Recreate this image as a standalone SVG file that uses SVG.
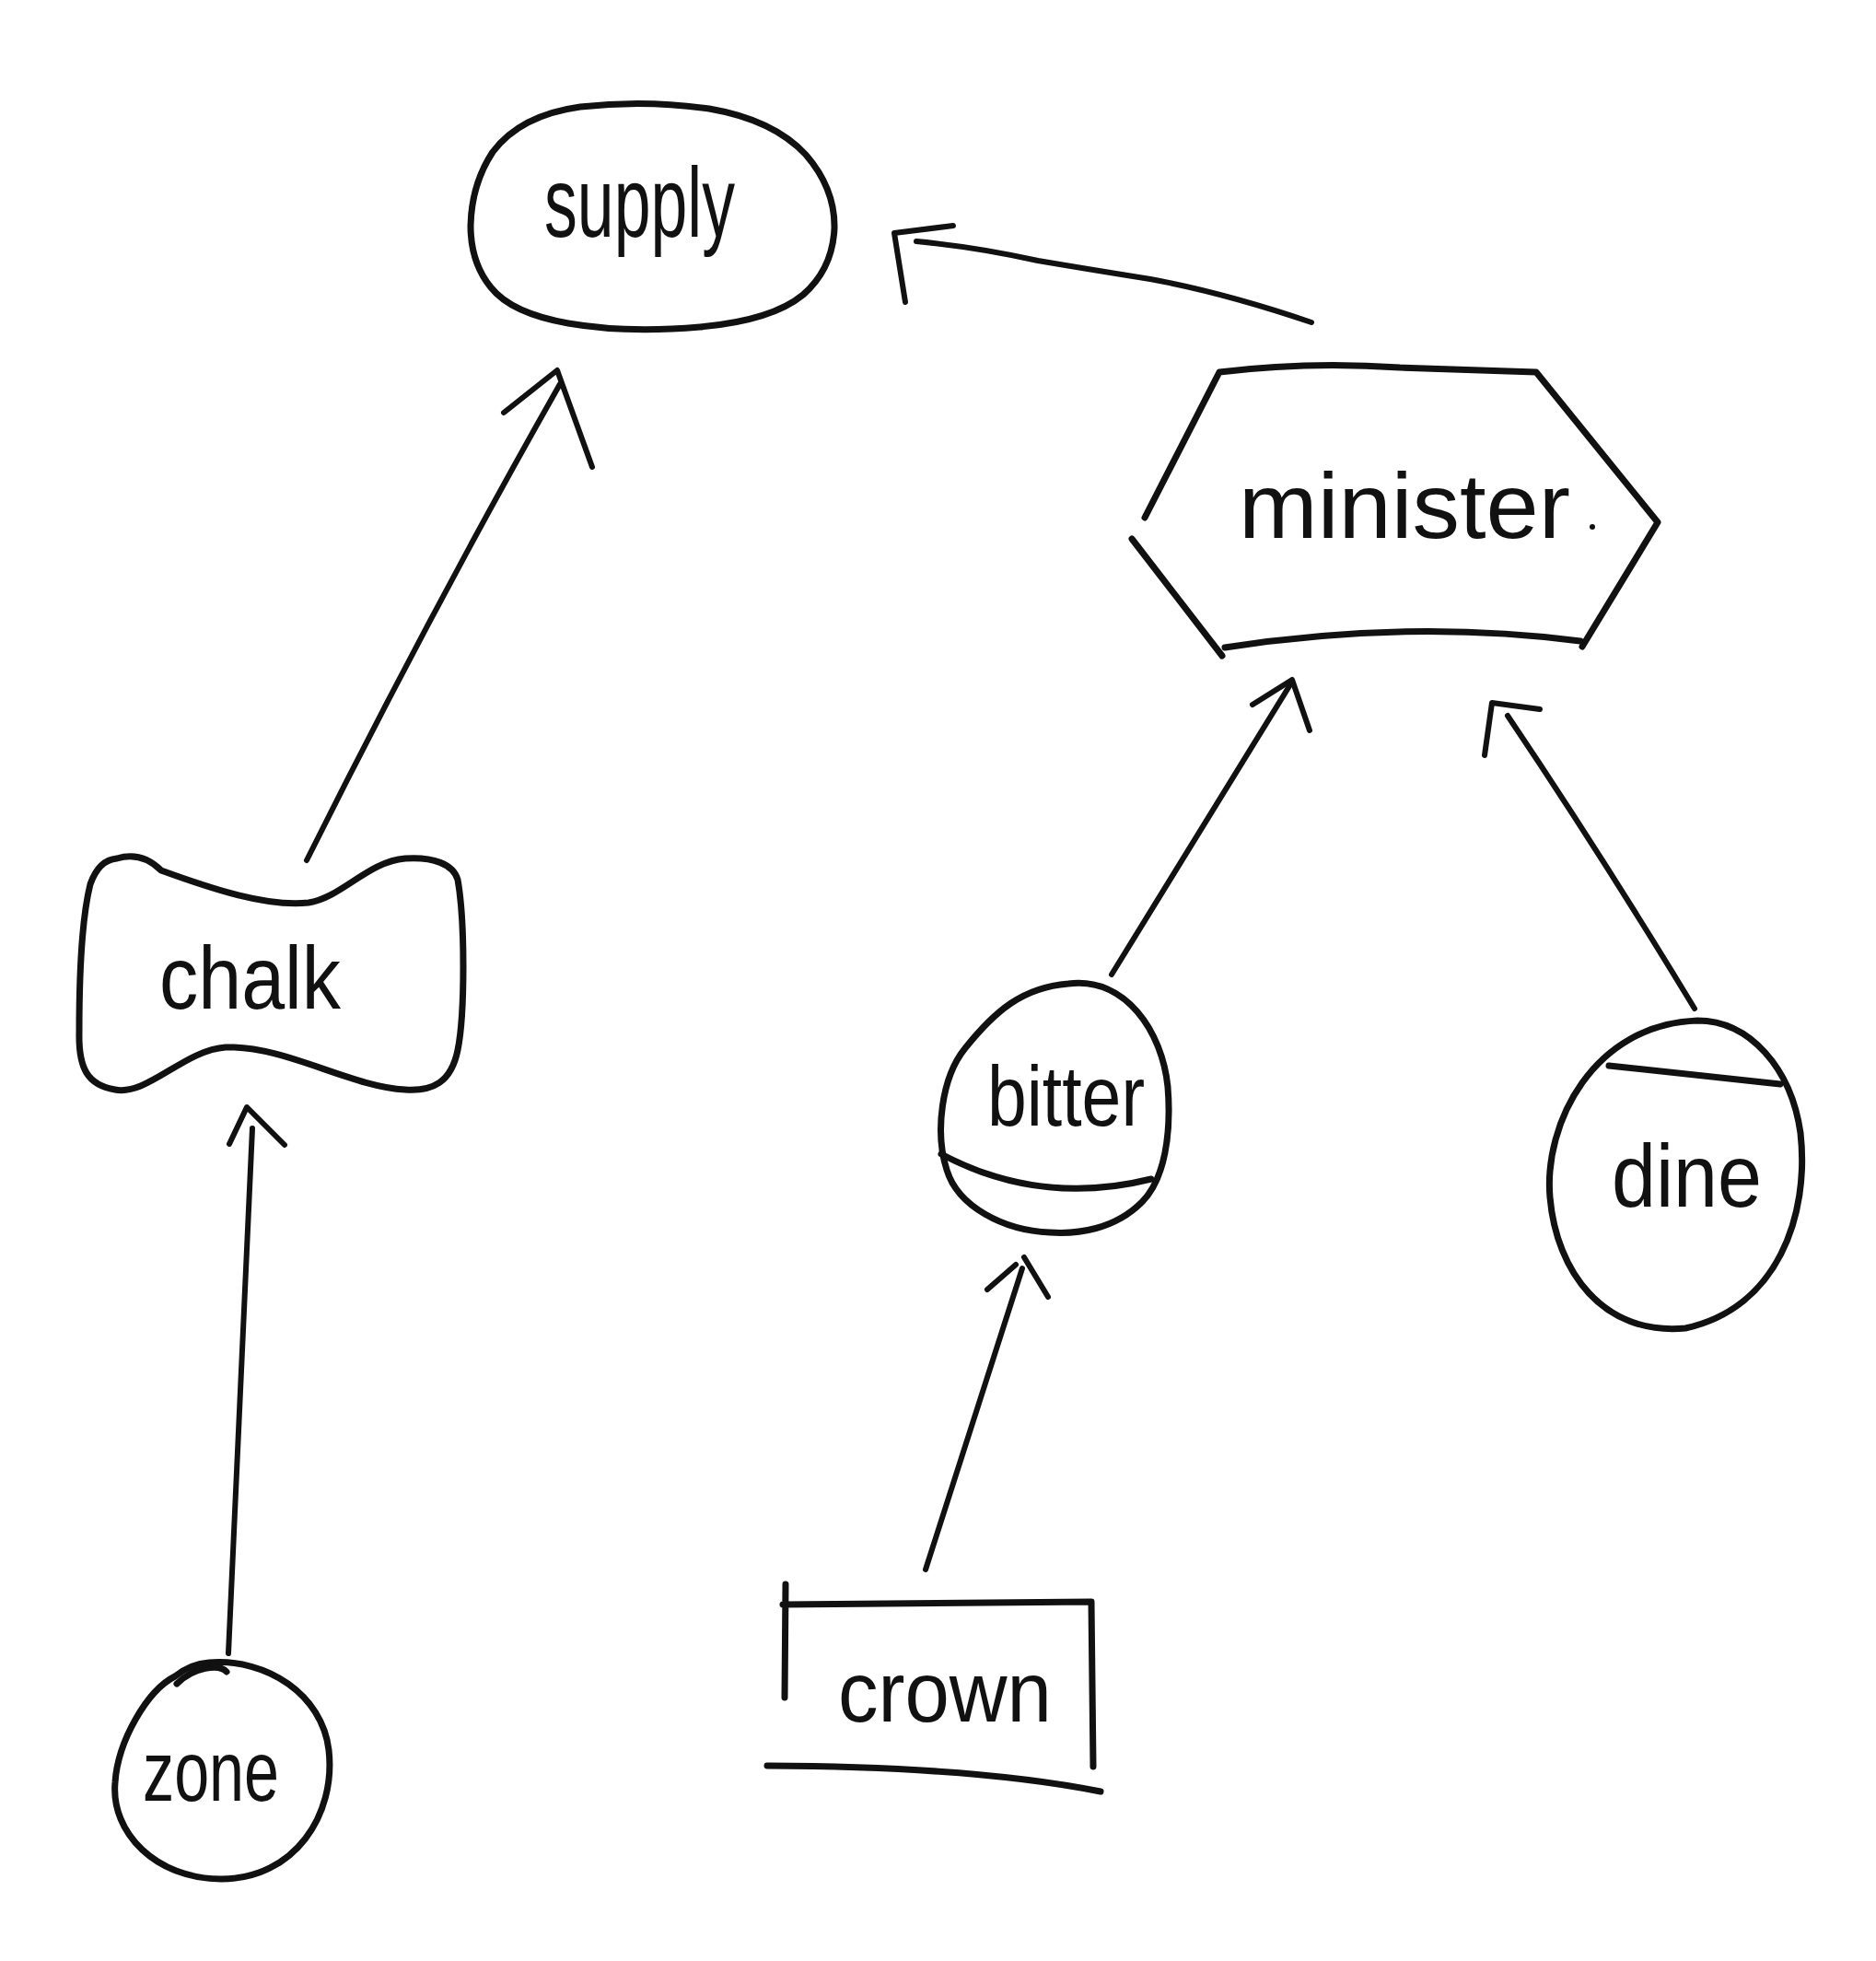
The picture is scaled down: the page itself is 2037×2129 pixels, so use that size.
<svg xmlns="http://www.w3.org/2000/svg" width="2037" height="2129" viewBox="0 0 2037 2129">
<style>
.shape{fill:none;stroke:#111;stroke-width:7;stroke-linecap:round;stroke-linejoin:round}
.edge{fill:none;stroke:#111;stroke-width:6;stroke-linecap:round;stroke-linejoin:round}
.label{font-family:"Liberation Sans",Arial,sans-serif;fill:#111}
</style>
<rect width="2037" height="2129" fill="#ffffff"/>
<g id="supply">
<path class="shape" d="M535,165 Q565,125 630,116 Q700,108 770,118 Q840,130 875,168 Q907,205 906,248 Q904,292 872,320 Q838,348 760,355 Q680,362 617,351 Q555,340 533,312 Q511,285 511,245 Q512,200 535,165 Z"/>
<text class="label" x="591" y="257" font-size="108" textLength="207" lengthAdjust="spacingAndGlyphs">supply</text>
</g>
<g id="minister">
<path class="shape" d="M1243,562 L1324,404 Q1420,392 1520,399 L1668,404 L1800,567 L1718,702 M1716,696 Q1530,672 1330,703 M1327,712 L1229,585"/>
<circle cx="1729" cy="572" r="3" fill="#111"/>
<text class="label" x="1345" y="584" font-size="100" textLength="360" lengthAdjust="spacingAndGlyphs">minister</text>
</g>
<g id="chalk">
<path class="shape" d="M127,932 C150,925 165,935 175,945 C230,965 290,985 335,980 C370,975 400,935 440,932 C470,930 492,938 497,955 C505,1000 505,1100 497,1140 C490,1175 470,1185 440,1183 C380,1180 310,1135 245,1137 C200,1140 160,1190 125,1183 C95,1178 85,1160 86,1120 C86,1060 88,1000 98,960 C105,940 115,933 127,932 Z"/>
<text class="label" x="173" y="1095" font-size="96" textLength="197" lengthAdjust="spacingAndGlyphs">chalk</text>
</g>
<g id="bitter">
<path class="shape" d="M1160,1068 C1222,1060 1262,1120 1268,1180 C1272,1230 1265,1280 1240,1305 C1210,1335 1170,1340 1140,1338 C1090,1336 1040,1310 1028,1270 C1015,1230 1022,1170 1048,1138 C1080,1098 1110,1072 1160,1068 Z"/>
<path class="shape" d="M1022,1253 Q1130,1310 1250,1280"/>
<text class="label" x="1072" y="1222" font-size="92" textLength="171" lengthAdjust="spacingAndGlyphs">bitter</text>
</g>
<g id="dine">
<path class="shape" d="M1843,1108 C1900,1108 1945,1160 1955,1230 C1965,1320 1930,1420 1830,1442 C1740,1450 1690,1380 1683,1300 C1676,1220 1730,1112 1843,1108 Z"/>
<path class="shape" d="M1747,1157 L1933,1177"/>
<text class="label" x="1750" y="1310" font-size="96" textLength="163" lengthAdjust="spacingAndGlyphs">dine</text>
</g>
<g id="crown">
<path class="shape" d="M853,1720 L852,1843 M850,1742 L1185,1739 L1187,1918 M833,1917 Q1060,1918 1195,1945"/>
<text class="label" x="910" y="1869" font-size="92" textLength="232" lengthAdjust="spacingAndGlyphs">crown</text>
</g>
<g id="zone">
<path class="shape" d="M227,1805 C290,1800 350,1840 357,1900 C365,1970 320,2040 240,2040 C170,2040 120,1990 125,1935 C128,1890 160,1835 190,1820 C200,1812 212,1806 227,1805 Z"/>
<path class="shape" d="M192,1828 C210,1810 238,1806 246,1815"/>
<text class="label" x="155" y="1955" font-size="92" textLength="148" lengthAdjust="spacingAndGlyphs">zone</text>
</g>
<g id="connectors">
<path class="edge" d="M1424,350 Q1330,318 1249,303 Q1180,292 1127,283 Q1060,268 995,262"/>
<path class="edge" d="M1035,245 L971,253 L983,328"/>
<path class="edge" d="M333,934 Q470,660 608,417"/>
<path class="edge" d="M547,448 L605,402 L643,507"/>
<path class="edge" d="M248,1795 L274,1225"/>
<path class="edge" d="M249,1242 L268,1202 L309,1243"/>
<path class="edge" d="M1207,1058 L1403,740"/>
<path class="edge" d="M1360,765 L1403,738 L1422,793"/>
<path class="edge" d="M1840,1095 Q1740,930 1637,777"/>
<path class="edge" d="M1672,770 L1620,763 L1612,820"/>
<path class="edge" d="M1005,1704 L1110,1377"/>
<path class="edge" d="M1072,1400 L1103,1373 M1112,1365 L1138,1408"/>
</g>
</svg>
